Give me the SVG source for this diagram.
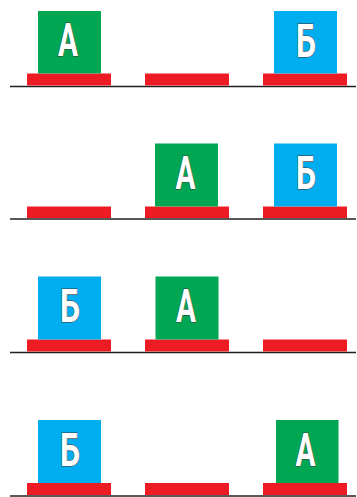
<svg xmlns="http://www.w3.org/2000/svg" width="357" height="497" viewBox="0 0 357 497">
  <style>
    .ground { stroke: #231f20; stroke-width: 1.6; fill: none; }
    .pad { fill: #ed1c24; }
    .boxA { fill: #00a651; }
    .boxB { fill: #00aeef; }
    .lbl { font-family: "Roboto", "Liberation Sans", sans-serif; font-weight: bold; font-size: 46px; fill: #ffffff; stroke: #3a3a3a; stroke-width: 1.1; paint-order: stroke; text-anchor: middle; }
  </style>
  <g id="connectors">
    <line class="ground" x1="10" y1="86.5" x2="356" y2="86.5"/>
    <line class="ground" x1="10" y1="219" x2="356" y2="219"/>
    <line class="ground" x1="10" y1="352.5" x2="356" y2="352.5"/>
    <line class="ground" x1="10" y1="496" x2="356" y2="496"/>
  </g>
  <g id="row1">
    <rect class="pad" x="27" y="73.5" width="84" height="12"/>
    <rect class="pad" x="145" y="73.5" width="84" height="12"/>
    <rect class="pad" x="263" y="73.5" width="84" height="12"/>
    <g id="r1-A"><rect class="boxA" x="38" y="11" width="63" height="62.5"/><text class="lbl" x="68" y="56" textLength="20" lengthAdjust="spacingAndGlyphs">А</text></g>
    <g id="r1-B"><rect class="boxB" x="274" y="11" width="63" height="62.5"/><text class="lbl" x="306" y="56.5" textLength="20" lengthAdjust="spacingAndGlyphs">Б</text></g>
  </g>
  <g id="row2">
    <rect class="pad" x="27" y="206.5" width="84" height="11.5"/>
    <rect class="pad" x="145" y="206.5" width="84" height="11.5"/>
    <rect class="pad" x="263" y="206.5" width="84" height="11.5"/>
    <g id="r2-A"><rect class="boxA" x="155" y="143.5" width="63" height="63"/><text class="lbl" x="185.5" y="189" textLength="20" lengthAdjust="spacingAndGlyphs">А</text></g>
    <g id="r2-B"><rect class="boxB" x="274" y="143.5" width="63" height="63"/><text class="lbl" x="306" y="189" textLength="20" lengthAdjust="spacingAndGlyphs">Б</text></g>
  </g>
  <g id="row3">
    <rect class="pad" x="27" y="339.5" width="84" height="12"/>
    <rect class="pad" x="145" y="339.5" width="84" height="12"/>
    <rect class="pad" x="263" y="339.5" width="84" height="12"/>
    <g id="r3-B"><rect class="boxB" x="38" y="276.5" width="63" height="63"/><text class="lbl" x="70" y="322" textLength="20" lengthAdjust="spacingAndGlyphs">Б</text></g>
    <g id="r3-A"><rect class="boxA" x="155.5" y="276.5" width="63" height="63"/><text class="lbl" x="186" y="322" textLength="20" lengthAdjust="spacingAndGlyphs">А</text></g>
  </g>
  <g id="row4">
    <rect class="pad" x="27" y="483" width="84" height="12"/>
    <rect class="pad" x="145" y="483" width="84" height="12"/>
    <rect class="pad" x="263" y="483" width="84" height="12"/>
    <g id="r4-B"><rect class="boxB" x="38" y="420" width="63" height="63"/><text class="lbl" x="70" y="465.5" textLength="20" lengthAdjust="spacingAndGlyphs">Б</text></g>
    <g id="r4-A"><rect class="boxA" x="276" y="420" width="62.5" height="63"/><text class="lbl" x="305.5" y="465.5" textLength="20" lengthAdjust="spacingAndGlyphs">А</text></g>
  </g>
</svg>
